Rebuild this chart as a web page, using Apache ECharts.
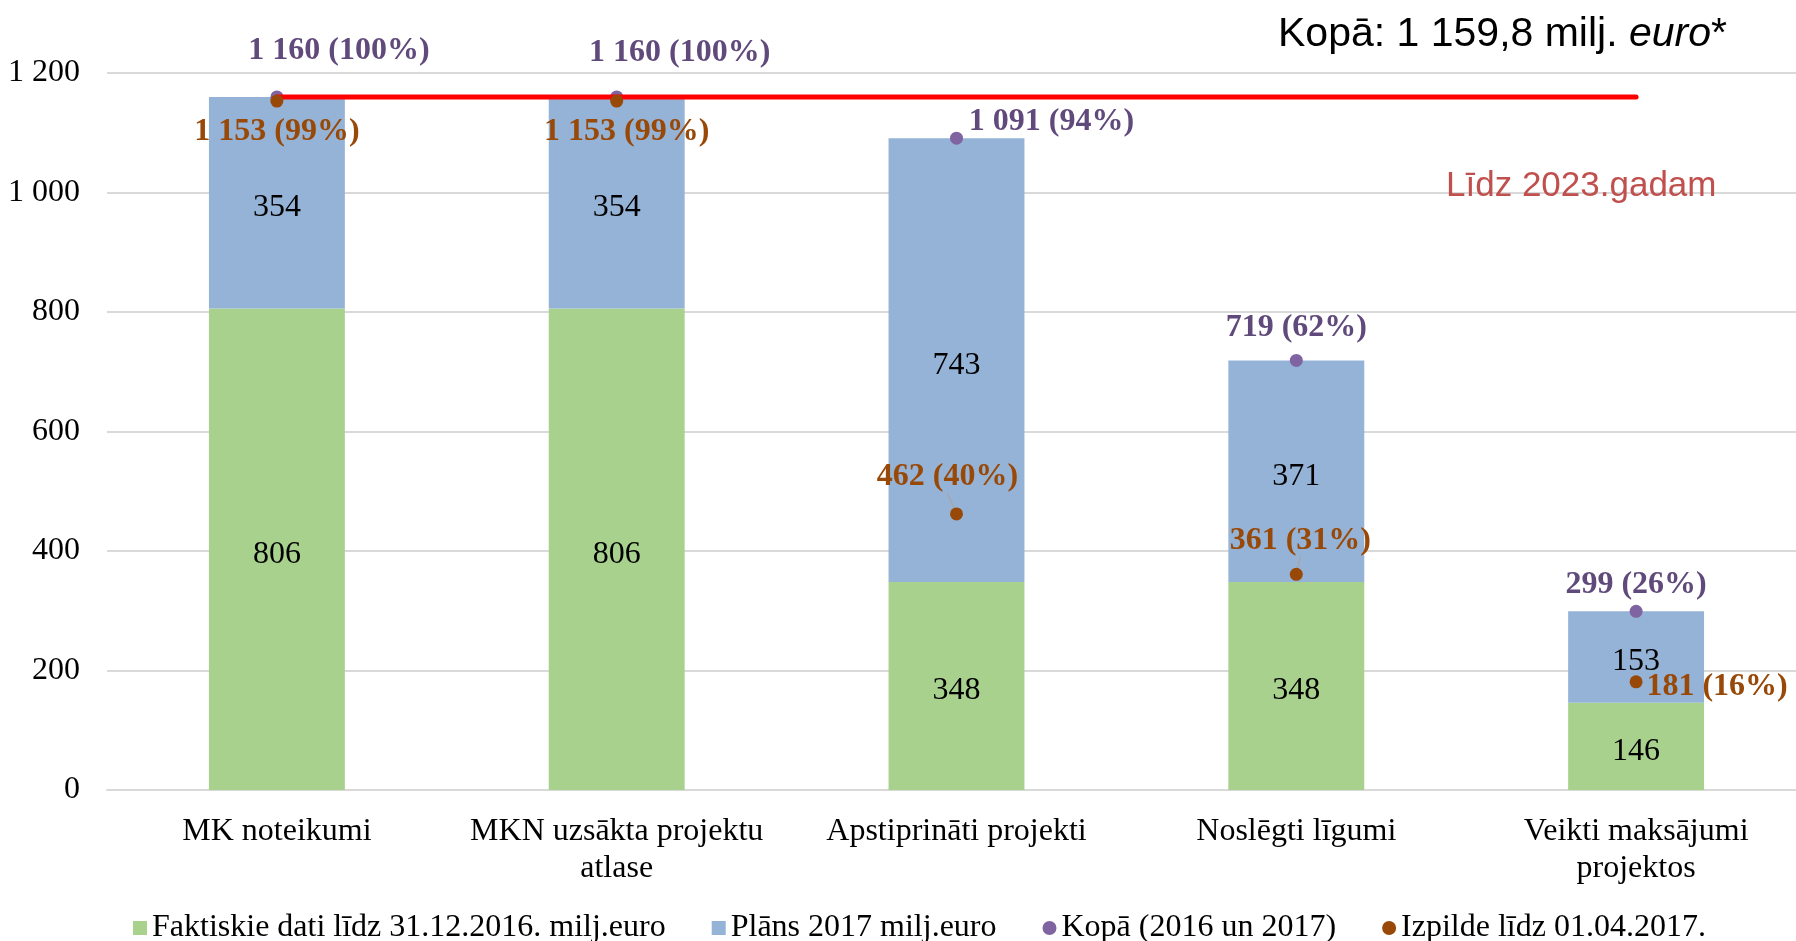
<!DOCTYPE html>
<html>
<head>
<meta charset="utf-8">
<script src="https://cdn.jsdelivr.net/npm/echarts@6/dist/echarts.min.js"></script>
<style>
  html, body { margin: 0; padding: 0; background: #fff; overflow: hidden; }
  #chart { width: 1806px; height: 941px; }
</style>
</head>
<body>
<div id="chart"></div>
<script>
// dati
const categories = ['MK noteikumi', 'MKN uzsākta projektu\natlase', 'Apstiprināti projekti', 'Noslēgti līgumi', 'Veikti maksājumi\nprojektos']
const faktiskie = [806, 806, 348, 348, 146]
const plans2017 = [354, 354, 743, 371, 153]
const kopa = [1160, 1160, 1091, 719, 299]
const kopaPct = [100, 100, 94, 62, 26]
const izpilde = [1153, 1153, 462, 361, 181]
const izpildePct = [99, 99, 40, 31, 16]
const target = [1159.8, 1159.8, 1159.8, 1159.8, 1159.8]
const yTicks = [0, 200, 400, 600, 800, 1000, 1200]

const serif = "'Liberation Serif', 'Times New Roman', serif"
const sans = "'Liberation Sans', Arial, sans-serif"

// 1 160 -> ar atstarpi
const fmt = (v) => String(v).replace(/\B(?=(\d{3})+(?!\d))/g, ' ')

// etiķešu nobīdes
const kopaOffsets = [[62, -46], [63, -44], [95, -16], [0, -33], [0, -27]]
const izpildeOffsets = [[0, 31], [10, 31], [-9, -37], [4, -34], [81, 5]]
const izpildeLeader = [false, false, true, true, false]

const chart = echarts.init(document.getElementById('chart'))

const option = {
  animation: false,
  title: [
    {
      text: '{a|Kopā: 1 159,8 milj. }{b|euro}{a|*}',
      left: 1273,
      top: 9,
      textStyle: {
        rich: {
          a: { fontFamily: sans, fontSize: 41, fontWeight: 'normal', color: '#000' },
          b: { fontFamily: sans, fontSize: 41, fontWeight: 'normal', color: '#000', fontStyle: 'italic' }
        }
      }
    },
    {
      text: 'Līdz 2023.gadam',
      left: 1441,
      top: 164,
      textStyle: { fontFamily: sans, fontSize: 35, fontWeight: 'normal', color: '#C0504D' }
    }
  ],
  legend: {
    left: 128,
    top: 907,
    itemWidth: 14,
    itemHeight: 14,
    itemGap: 46,
    textStyle: { fontFamily: serif, fontSize: 32, color: '#000' },
    data: [
      { name: 'Faktiskie dati līdz 31.12.2016. milj.euro', icon: 'rect' },
      { name: 'Plāns 2017 milj.euro', icon: 'rect' },
      { name: 'Kopā (2016 un 2017)', icon: 'circle' },
      { name: 'Izpilde līdz 01.04.2017.', icon: 'circle' }
    ]
  },
  grid: {
    left: 107,
    right: 0,
    top: 73,
    bottom: 151
  },
  xAxis: {
    type: 'category',
    data: categories,
    axisTick: { show: false },
    axisLine: { lineStyle: { color: '#D9D9D9', width: 2 } },
    axisLabel: {
      interval: 0,
      color: '#000',
      fontFamily: serif,
      fontSize: 32,
      lineHeight: 37,
      margin: 23
    }
  },
  yAxis: {
    type: 'value',
    min: yTicks[0],
    max: yTicks[yTicks.length - 1],
    interval: 200,
    axisLine: { show: false },
    axisTick: { show: false },
    splitLine: { lineStyle: { color: '#D9D9D9', width: 2 } },
    axisLabel: {
      color: '#000',
      fontFamily: serif,
      fontSize: 32,
      margin: 27,
      padding: [6, 0, 0, 0],
      formatter: (v) => fmt(v)
    }
  },
  series: [
    {
      name: 'Faktiskie dati līdz 31.12.2016. milj.euro',
      type: 'bar',
      stack: 'total',
      barWidth: '40%',
      z: 2,
      itemStyle: { color: '#A9D18E' },
      label: {
        show: true,
        position: 'inside',
        offset: [0, 5],
        color: '#000',
        fontFamily: serif,
        fontSize: 32
      },
      data: faktiskie
    },
    {
      name: 'Plāns 2017 milj.euro',
      type: 'bar',
      stack: 'total',
      barWidth: '40%',
      z: 2,
      itemStyle: { color: '#95B3D7' },
      label: {
        show: true,
        position: 'inside',
        offset: [0, 5],
        color: '#000',
        fontFamily: serif,
        fontSize: 32
      },
      data: plans2017
    },
    {
      name: 'Kopā (2016 un 2017)',
      type: 'scatter',
      symbol: 'circle',
      symbolSize: 13,
      z: 3,
      itemStyle: { color: '#8064A2', opacity: 1 },
      label: {
        show: true,
        position: 'inside',
        color: '#604A7B',
        fontFamily: serif,
        fontSize: 32,
        fontWeight: 'bold',
        formatter: (p) => fmt(p.value) + ' (' + kopaPct[p.dataIndex] + '%)'
      },
      data: kopa.map((v, i) => ({ value: v, label: { offset: kopaOffsets[i] } }))
    },
    {
      name: 'Līdz 2023.gadam',
      type: 'line',
      symbol: 'none',
      z: 4,
      lineStyle: { color: '#FF0000', width: 5, cap: 'round' },
      data: target
    },
    {
      name: 'Izpilde līdz 01.04.2017.',
      type: 'scatter',
      symbol: 'circle',
      symbolSize: 13,
      z: 5,
      itemStyle: { color: '#984807', opacity: 1 },
      label: {
        show: true,
        position: 'inside',
        color: '#984807',
        fontFamily: serif,
        fontSize: 32,
        fontWeight: 'bold',
        formatter: (p) => fmt(p.value) + ' (' + izpildePct[p.dataIndex] + '%)'
      },
      labelLine: { show: true, lineStyle: { color: '#A6A6A6', width: 1.5 } },
      labelLayout: (params) => ({ dx: izpildeOffsets[params.dataIndex][0], dy: izpildeOffsets[params.dataIndex][1] }),
      data: izpilde.map((v, i) => ({ value: v, labelLine: { show: izpildeLeader[i] } }))
    }
  ]
}

chart.setOption(option)
</script>
</body>
</html>
